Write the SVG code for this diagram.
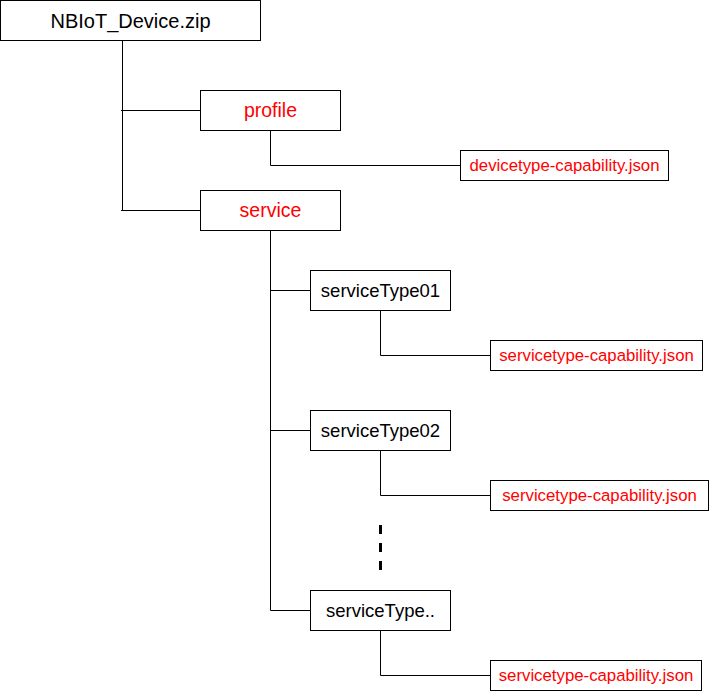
<svg xmlns="http://www.w3.org/2000/svg" width="709" height="691" viewBox="0 0 709 691">
<style>
.box{fill:#fff;stroke:#000;stroke-width:1}
.ln{fill:none;stroke:#000;stroke-width:1}
.t{font-family:"Liberation Sans",Arial,sans-serif;text-anchor:middle}
.blk{fill:#000}
.red{fill:#ff0000}
</style>
<rect width="709" height="691" fill="#fff"/>
<g id="connectors">
<path class="ln" d="M122.5 40.5V210.5M121 110.5H200.5M121 210.5H200.5"/>
<path class="ln" d="M270.5 130.5V165.5H460.5"/>
<path class="ln" d="M270.5 230.5V610.5M270.5 290.5H310.5M270.5 430.5H310.5M270.5 610.5H310.5"/>
<path class="ln" d="M380.5 310.5V355.5H490.5M380.5 450.5V495.5H490.5M380.5 630.5V675.5H490.5"/>
<path d="M380.5 525V570" fill="none" stroke="#000" stroke-width="3" stroke-dasharray="9 9"/>
</g>
<g id="root"><rect class="box" x="0.5" y="0.5" width="260" height="40"/><text class="t blk" x="130.5" y="27.5" font-size="20">NBIoT_Device.zip</text></g>
<g id="profile"><rect class="box" x="200.5" y="90.5" width="140" height="40"/><text class="t red" x="270.5" y="117.3" font-size="19.5">profile</text></g>
<g id="devicetype"><rect class="box" x="460.5" y="150.5" width="208" height="30"/><text class="t red" x="564.5" y="171.3" font-size="16.8">devicetype-capability.json</text></g>
<g id="service"><rect class="box" x="200.5" y="190.5" width="140" height="40"/><text class="t red" x="270.5" y="217.3" font-size="19.5">service</text></g>
<g id="serviceType01"><rect class="box" x="310.5" y="270.5" width="140" height="40"/><text class="t blk" x="380.5" y="296.8" font-size="18.5">serviceType01</text></g>
<g id="json01"><rect class="box" x="490.5" y="340.5" width="212" height="30"/><text class="t red" x="596.5" y="361.3" font-size="16.8">servicetype-capability.json</text></g>
<g id="serviceType02"><rect class="box" x="310.5" y="410.5" width="140" height="40"/><text class="t blk" x="380.5" y="436.8" font-size="18.5">serviceType02</text></g>
<g id="json02"><rect class="box" x="490.5" y="480.5" width="218" height="30"/><text class="t red" x="599.5" y="501.3" font-size="16.8">servicetype-capability.json</text></g>
<g id="serviceTypeN"><rect class="box" x="310.5" y="590.5" width="140" height="40"/><text class="t blk" x="380.5" y="616.8" font-size="18.5">serviceType..</text></g>
<g id="jsonN"><rect class="box" x="490.5" y="660.5" width="211" height="30"/><text class="t red" x="596" y="681.3" font-size="16.8">servicetype-capability.json</text></g>
</svg>
